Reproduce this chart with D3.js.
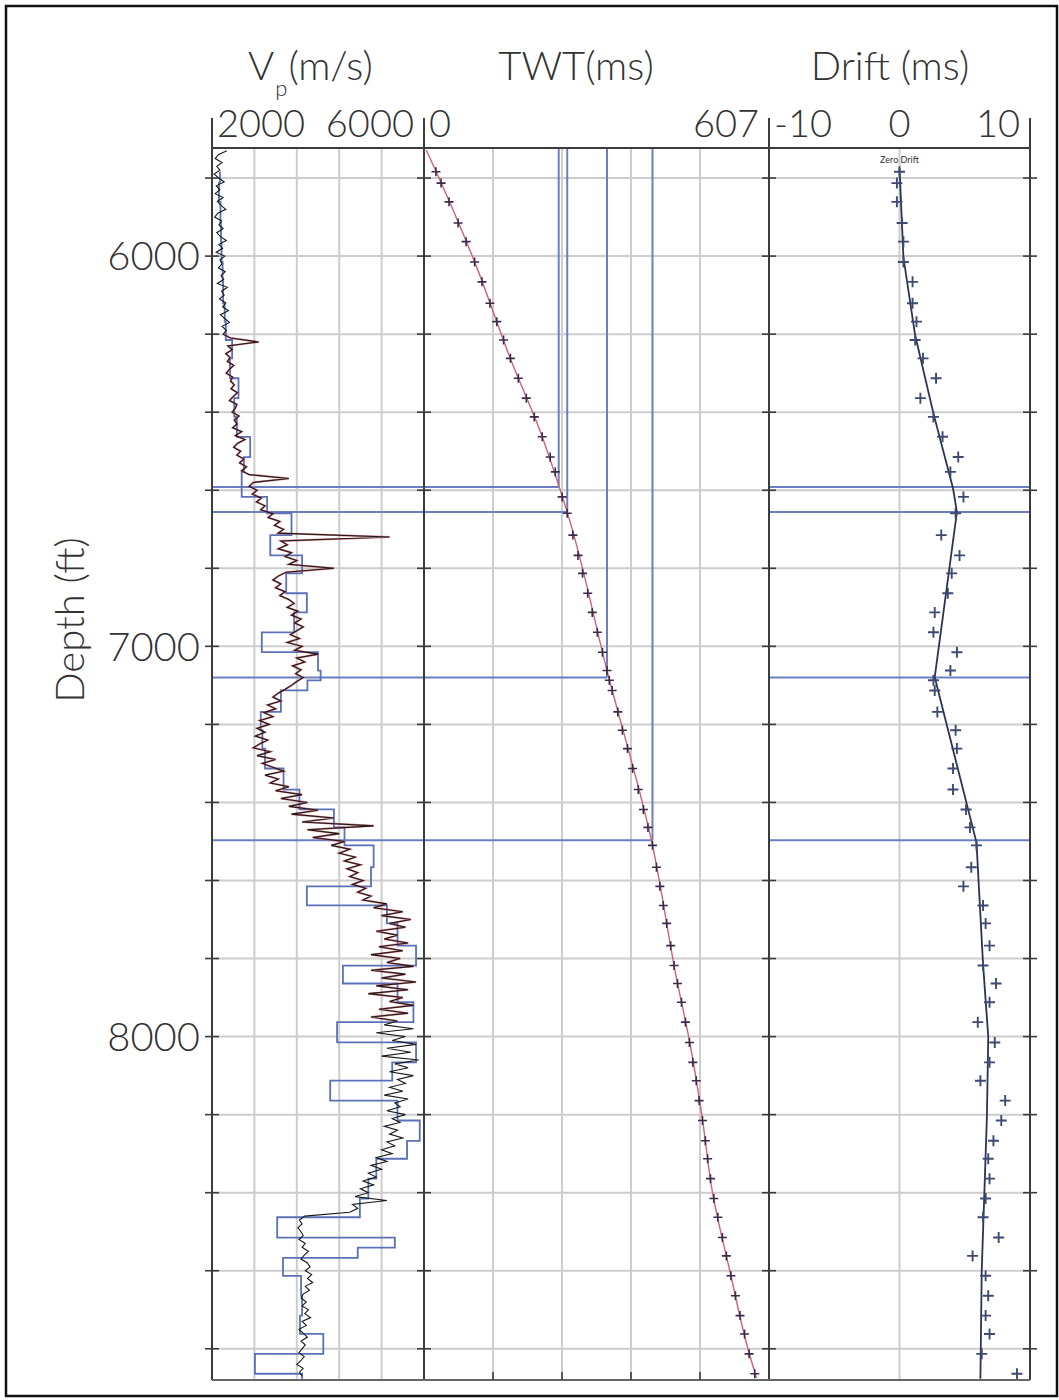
<!DOCTYPE html>
<html><head><meta charset="utf-8">
<script src="https://cdn.jsdelivr.net/npm/d3@7"></script>
<style>body{margin:0;background:#fff}svg{display:block}text{font-family:Lato,"Open Sans",sans-serif;font-weight:300;fill:#333}</style>
</head><body><svg id="c" width="1059" height="1400"></svg>
<script>
// ---------- DATA ----------
const depthLabels = [6000, 7000, 8000];
const gridDepths = [5800,6000,6200,6400,6600,6800,7000,7200,7400,7600,7800,8000,8200,8400,8600,8800];
const vpTickLabels = ["2000", "6000"];
const twtTickLabels = ["0", "607"];
const driftTickLabels = ["-10", "0", "10"];
const vpGrid = [2800, 3600, 4400, 5200];
const twtGrid = [121.4, 242.8, 364.2, 485.6];
const driftGrid = [0];

// sonic log (m/s), one sample every 10 ft starting at 5730 ft
const vpStart = 5730, vpStep = 10;
const vpLog = [
2280,2120,2060,2190,2090,2150,2040,2130,2230,2080,
2150,2060,2210,2100,2170,2260,2110,2050,2180,2130,
2210,2090,2160,2270,2130,2200,2080,2240,2150,2190,
2120,2250,2170,2220,2100,2290,2180,2230,2140,2260,
2200,2310,2160,2240,2330,2190,2270,2210,2350,2880,
2300,2380,2260,2340,2290,2410,2330,2270,2390,2350,
2420,2360,2480,2400,2330,2470,2440,2380,2510,2420,
2470,2390,2560,2440,2620,2480,2410,2540,2470,2600,
2520,2650,2560,2700,3450,2780,2700,2850,2760,2930,
2840,3000,2920,3150,3060,3280,3180,3350,3250,5350,
3300,3420,3250,3500,3380,3600,3450,4300,3400,3250,
3150,3300,3200,3380,3280,3450,3550,3420,3620,3500,
3680,3560,3720,3600,3480,3650,3420,3700,3560,4000,
3600,3750,3520,3680,3580,3720,3600,3500,3380,3250,
3150,3300,3050,3200,2980,3150,2900,3080,2850,3000,
2820,3050,2900,2780,3100,2850,3200,2950,3150,3350,
3000,3250,3100,3450,3200,3700,3300,3800,3450,4000,
3500,4300,3700,5050,3800,4400,3900,4500,4250,4600,
4400,4700,4500,4800,4550,4750,4600,4850,4650,4900,
4750,5000,4850,5300,5050,5600,5200,5750,5350,5650,
5100,5500,5250,5700,5150,5600,5000,5550,5300,5800,
5000,5650,5200,5850,5100,5700,4950,5600,5350,5800,
5150,5700,5000,5500,5250,5800,5100,5650,5400,5850,
5300,5750,5200,5900,5450,5700,5350,5800,5500,5650,
5350,5600,5250,5700,5450,5550,5300,5650,5400,5550,
5250,5500,5350,5600,5300,5450,5200,5400,5100,5300,
5000,5200,4950,5100,4850,5050,4800,4950,4700,5300,
4650,4750,4600,3750,3650,3700,3620,3680,3720,3640,
3760,3700,3820,3740,3680,3800,3850,3760,3880,3800,
3900,3760,3840,3720,3680,3780,3700,3820,3750,3860,
3700,3780,3640,3720,3800,3680,3760,3700,3640,3740,
3680,3600,3720,3650,3700];
const redLogRange = [6200, 7960];

// checkshot interval velocity (blocky curve)
const blueDepth = [5784,5813,5861,5915,5963,6015,6066,6121,6168,6215,6262,6313,6364,6412,6463,6515,6553,6617,6659,6715,6767,6813,6864,6913,6964,7015,7062,7087,7113,7168,7215,7262,7313,7367,7418,7464,7510,7566,7615,7664,7710,7767,7818,7864,7912,7963,8015,8066,8113,8164,8215,8267,8313,8364,8415,8463,8515,8541,8567,8613,8664,8715,8762,8813,8864,8880];
const blueVel = [2150,2130,2160,2170,2180,2200,2210,2240,2260,2380,2340,2500,2420,2470,2720,2600,2560,3040,3500,3100,3700,3400,3790,3550,2940,4000,4050,3800,3300,2920,2950,3000,3350,3650,4300,4500,5050,5000,3790,5300,5500,5850,4470,5500,5800,4360,5850,5400,4230,5500,5920,5680,5100,4950,4790,3230,5450,4750,3340,3680,3700,3660,4100,2810,3700];

// checkshots
const csDepth = [5784,5813,5861,5915,5963,6015,6066,6121,6168,6215,6262,6313,6364,6412,6463,6515,6553,6617,6659,6715,6767,6813,6864,6913,6964,7015,7062,7087,7113,7168,7215,7262,7313,7367,7418,7464,7510,7566,7615,7664,7710,7767,7818,7864,7912,7963,8015,8066,8113,8164,8215,8267,8313,8364,8415,8463,8515,8562,8613,8664,8715,8762,8813,8864];
const csTWT = [21,30,44,60,74,89,102,116,128,140,152,166,180,194,208,222,231,243,252,262,271,279,288,296,305,314,322,326,331,341,349,358,367,377,386,394,402,409,415,421,427,434,440,446,453,460,467,473,479,484,490,495,499,504,510,517,525,532,540,548,556,564,572,582];
const csDrift = [0,-0.2,-0.2,0.2,0.3,0.3,1.0,1.0,1.3,1.2,1.8,2.8,1.6,2.6,3.3,4.5,3.9,4.9,4.3,3.2,4.6,4.0,3.7,2.7,2.6,4.4,3.9,2.6,2.7,2.9,4.3,4.4,4.1,4.1,5.1,5.4,5.9,5.5,4.9,6.4,6.6,6.9,6.4,7.4,6.9,6.0,7.3,6.9,6.2,8.1,7.8,7.2,6.8,6.9,6.6,6.4,7.6,5.6,6.6,6.8,6.6,6.9,6.3,9.0];

// sonic-derived TWT curve
const twtDepth = [5728,5805,6018,6259,6459,6592,6656,7062,7503,7856,8003,8203,8403,8600,8800,8875];
const twtVal = [4,28,90,151,207,238,252,322,401,445,466,489,508,538,570,585];

// drift curve
const driftLineDepth = [5774,6003,6203,6403,6595,6656,7079,7503,7813,8000,8203,8403,8600,8877];
const driftLineVal = [0,0.3,1.2,2.6,4.1,4.4,2.7,5.9,6.4,6.8,6.7,6.5,6.3,6.2];

// formation markers
const markerDepth = [6592, 6656, 7080, 7497];
const markerTWT = [237, 252, 322, 402];

// ---------- LAYOUT ----------
const svg = d3.select("#c");
const yTop = 148, yBot = 1380;
const P1 = [212, 424], P2 = [424, 769], P3 = [769, 1030];
const y = d3.scaleLinear().domain([5723, 8880]).range([yTop, yBot]);
const xVp = d3.scaleLinear().domain([2000, 6000]).range(P1);
const xT = d3.scaleLinear().domain([0, 607]).range(P2);
const xD = d3.scaleLinear().domain([-10, 10]).range(P3);
const GRID = "#cdcdcd", BLUE = "#6a7fc2", AX = "#3c3c3c";

svg.append("rect").attr("x",6).attr("y",6).attr("width",1051).attr("height",1390)
  .attr("fill","#fff").attr("stroke","#111").attr("stroke-width",2.5);

const defs = svg.append("defs");
[["c1",P1],["c2",P2],["c3",P3]].forEach(([id,p]) => {
  defs.append("clipPath").attr("id",id).append("rect")
    .attr("x",p[0]).attr("y",yTop).attr("width",p[1]-p[0]).attr("height",yBot-yTop);
});

// horizontal grid
[P1,P2,P3].forEach(p => {
  svg.append("g").selectAll("line").data(gridDepths).join("line")
    .attr("x1",p[0]).attr("x2",p[1]).attr("y1",d=>y(d)).attr("y2",d=>y(d))
    .attr("stroke",GRID).attr("stroke-width",2);
});
// vertical grid
const vg = (scale, vals) => svg.append("g").selectAll("line").data(vals).join("line")
  .attr("x1",d=>scale(d)).attr("x2",d=>scale(d)).attr("y1",yTop).attr("y2",yBot)
  .attr("stroke",GRID).attr("stroke-width",2);
vg(xVp, vpGrid); vg(xT, twtGrid); vg(xD, driftGrid);

// marker lines
const mk = svg.append("g").attr("stroke",BLUE).attr("stroke-width",2);
markerDepth.forEach((d,i) => {
  mk.append("line").attr("x1",P1[0]).attr("x2",P1[1]).attr("y1",y(d)).attr("y2",y(d));
  mk.append("line").attr("x1",P2[0]).attr("x2",xT(markerTWT[i])).attr("y1",y(d)).attr("y2",y(d));
  mk.append("line").attr("x1",xT(markerTWT[i])).attr("x2",xT(markerTWT[i])).attr("y1",yTop).attr("y2",y(d));
  mk.append("line").attr("x1",P3[0]).attr("x2",P3[1]).attr("y1",y(d)).attr("y2",y(d));
});

// ---- Panel 1: Vp ----
const g1 = svg.append("g").attr("clip-path","url(#c1)");
const blueSteps = [];
blueVel.forEach((v,i) => { if (blueDepth[i+1] !== undefined) { blueSteps.push([v, blueDepth[i]]); blueSteps.push([v, blueDepth[i+1]]); } });
g1.append("path").datum(blueSteps)
  .attr("d", d3.line().x(d=>xVp(d[0])).y(d=>y(d[1])))
  .attr("fill","none").attr("stroke","#5c70b8").attr("stroke-width",1.8);
const logPts = vpLog.map((v,i) => [vpStart + i*vpStep, v]);
const logLine = d3.line().x(d=>xVp(d[1])).y(d=>y(d[0]));
g1.append("path").datum(logPts.filter(p => p[0]>=redLogRange[0] && p[0]<=redLogRange[1]))
  .attr("d", logLine).attr("fill","none").attr("stroke","#c8404a").attr("stroke-width",2).attr("opacity",0.65);
g1.append("path").datum(logPts)
  .attr("d", logLine).attr("fill","none").attr("stroke","#1a1a1a").attr("stroke-width",1.1);

// ---- Panel 2: TWT ----
const g2 = svg.append("g").attr("clip-path","url(#c2)");
g2.append("path").datum(twtDepth.map((d,i)=>[d, twtVal[i]]))
  .attr("d", d3.line().x(d=>xT(d[1])).y(d=>y(d[0])).curve(d3.curveMonotoneY))
  .attr("fill","none").attr("stroke","#d0607a").attr("stroke-width",1.4);
const cross = (g, pts, s, col, w) => {
  g.append("g").selectAll("path").data(pts).join("path")
    .attr("d", p => `M${p[0]-s},${p[1]}H${p[0]+s}M${p[0]},${p[1]-s}V${p[1]+s}`)
    .attr("stroke", col).attr("stroke-width", w).attr("fill","none");
};
cross(g2, csDepth.map((d,i)=>[xT(csTWT[i]), y(d)]), 4.5, "#3a2c48", 1.6);

// ---- Panel 3: Drift ----
const g3 = svg.append("g").attr("clip-path","url(#c3)");
g3.append("path").datum(driftLineDepth.map((d,i)=>[d, driftLineVal[i]]))
  .attr("d", d3.line().x(d=>xD(d[1])).y(d=>y(d[0])))
  .attr("fill","none").attr("stroke","#2b3552").attr("stroke-width",1.8);
cross(g3, csDepth.map((d,i)=>[xD(csDrift[i]), y(d)]), 5.5, "#3e4a72", 1.9);
svg.append("text").attr("x", xD(0)).attr("y", 163).attr("text-anchor","middle")
  .attr("font-size",9).style("font-weight",400).text("Zero Drift");

// ---- borders & ticks ----
const ax = svg.append("g").attr("stroke",AX).attr("stroke-width",2);
[P1[0],P1[1],P2[1],P3[1]].forEach(x => {
  ax.append("line").attr("x1",x).attr("x2",x).attr("y1",118).attr("y2",yBot);
  ax.append("g").selectAll("line").data(gridDepths).join("line")
    .attr("x1",x-7).attr("x2",x+7).attr("y1",d=>y(d)).attr("y2",d=>y(d)).attr("stroke-width",1.6);
});
ax.append("line").attr("x1",P1[0]).attr("x2",P3[1]).attr("y1",yTop).attr("y2",yTop);
ax.append("line").attr("x1",P1[0]).attr("x2",P3[1]).attr("y1",yBot).attr("y2",yBot).attr("stroke","#666");
ax.append("g").selectAll("line").data(twtGrid).join("line")
  .attr("x1",d=>xT(d)).attr("x2",d=>xT(d)).attr("y1",yBot-8).attr("y2",yBot).attr("stroke-width",1.6);

// ---- text ----
const FS = 38;
const t1 = svg.append("text").attr("x", 248).attr("y", 80).attr("font-size", 40);
t1.append("tspan").text("V");
t1.append("tspan").attr("font-size",22).attr("dy",16).attr("dx",1).text("p");
t1.append("tspan").attr("dy",-16).attr("dx",1).text("(m/s)");
svg.append("text").attr("x", 576).attr("y", 80).attr("text-anchor","middle").attr("font-size",40).text("TWT(ms)");
svg.append("text").attr("x", 890).attr("y", 80).attr("text-anchor","middle").attr("font-size",40).text("Drift (ms)");

const tickY = 137;
svg.append("text").attr("x", P1[0]+5).attr("y", tickY).attr("font-size",FS).text(vpTickLabels[0]);
svg.append("text").attr("x", P1[1]-10).attr("y", tickY).attr("text-anchor","end").attr("font-size",FS).text(vpTickLabels[1]);
svg.append("text").attr("x", P2[0]+5).attr("y", tickY).attr("font-size",FS).text(twtTickLabels[0]);
svg.append("text").attr("x", P2[1]-10).attr("y", tickY).attr("text-anchor","end").attr("font-size",FS).text(twtTickLabels[1]);
svg.append("text").attr("x", P3[0]+5).attr("y", tickY).attr("font-size",FS).text(driftTickLabels[0]);
svg.append("text").attr("x", xD(0)).attr("y", tickY).attr("text-anchor","middle").attr("font-size",FS).text(driftTickLabels[1]);
svg.append("text").attr("x", P3[1]-10).attr("y", tickY).attr("text-anchor","end").attr("font-size",FS).text(driftTickLabels[2]);

svg.append("g").selectAll("text").data(depthLabels).join("text")
  .attr("x", 200).attr("y", d=>y(d)).attr("dy","0.36em").attr("text-anchor","end")
  .attr("font-size", 40).text(d=>d);
svg.append("text").attr("transform","translate(84,620) rotate(-90)").attr("text-anchor","middle")
  .attr("font-size",40).text("Depth (ft)");
</script></body></html>
